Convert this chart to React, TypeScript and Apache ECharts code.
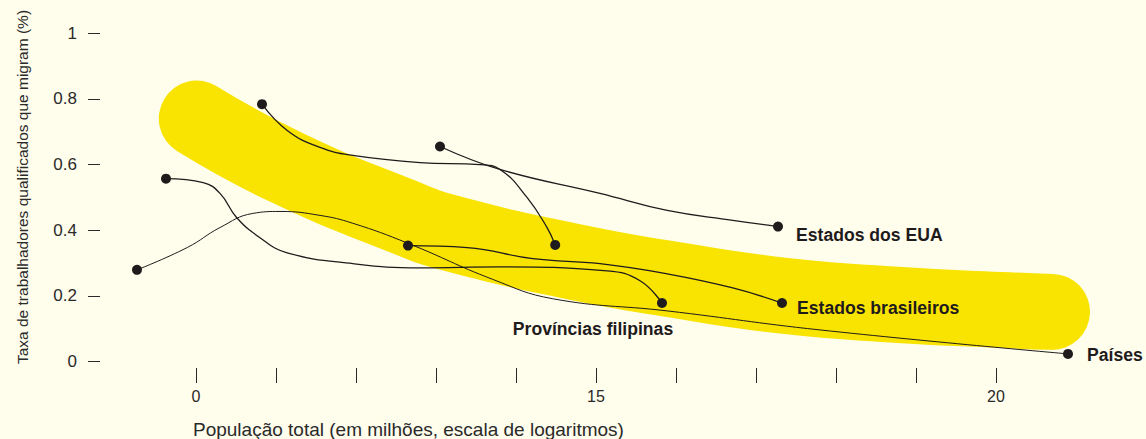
import React, { useEffect, useRef } from "react";
import * as echarts from "echarts";

// x in axis units (one tick = one unit), y in share (0..1)
const bandPoints: [number, number][] = [
  [0.01, 0.74], [1.14, 0.59], [2.55, 0.445], [3.21, 0.389], [4.8, 0.3],
  [5.9, 0.252], [7.35, 0.2], [8.8, 0.172], [10.05, 0.157], [10.7, 0.151],
];

const usLineA: [number, number][] = [
  [0.825, 0.784], [1.14, 0.704], [1.55, 0.652], [1.96, 0.628], [2.8, 0.606],
  [3.55, 0.6], [3.8, 0.585], [4.14, 0.499], [4.39, 0.407], [4.49, 0.355],
];
const usLineB: [number, number][] = [
  [3.05, 0.655], [3.8, 0.585], [5.05, 0.512], [5.89, 0.46], [6.71, 0.43], [7.275, 0.411],
];
const philippines: [number, number][] = [
  [-0.375, 0.557], [0.09, 0.545], [0.3, 0.512], [0.51, 0.438], [0.8, 0.377],
  [1.14, 0.331], [1.96, 0.298], [2.8, 0.285], [3.8, 0.288], [5.14, 0.276],
  [5.55, 0.246], [5.825, 0.178],
];
const brazil: [number, number][] = [
  [2.65, 0.353], [3.39, 0.347], [4.21, 0.313], [5.05, 0.298], [5.89, 0.267],
  [6.71, 0.224], [7.325, 0.178],
];
const countries: [number, number][] = [
  [-0.7375, 0.279], [-0.11, 0.347], [0.3, 0.408], [0.71, 0.451], [1.05, 0.457],
  [1.55, 0.445], [1.96, 0.421], [2.65, 0.36], [3.71, 0.25], [4.46, 0.191],
  [5.89, 0.154], [7.8, 0.096], [10.9, 0.023],
];

const xTickValues = [0, 1, 2, 3, 4, 5, 6, 7, 8, 9, 10];
const xLabelValues = [0, 5, 10];
const xLabelTexts = ["0", "15", "20"];
const yTickValues = [0, 0.2, 0.4, 0.6, 0.8, 1];
const yLabelTexts = ["0", "0.2", "0.4", "0.6", "0.8", "1"];

const INK = "#1f1b1c";
const AXIS = "#2a2a2a";
const YELLOW = "#F9E300";
const BG = "#FFFDEC";
const FONT = "Liberation Sans, Arial, sans-serif";

export default function App() {
  const ref = useRef<HTMLDivElement>(null);
  useEffect(() => {
    if (!ref.current) return;
    const chart = echarts.init(ref.current, undefined, { renderer: "svg" });
    const thin = (data: [number, number][], w = 1.3) => ({
      type: "line",
      data,
      smooth: 0.45,
      showSymbol: false,
      symbol: "none",
      silent: true,
      z: 3,
      lineStyle: { color: INK, width: w, opacity: 1 },
    });
    const labelStyle = {
      show: true,
      fontFamily: FONT,
      fontWeight: "bold",
      fontSize: 17.6,
      color: INK,
      opacity: 1,
    };
    const first = (a: [number, number][]) => a[0];
    const last = (a: [number, number][]) => a[a.length - 1];
    chart.setOption({
      animation: false,
      backgroundColor: BG,
      textStyle: { fontFamily: FONT },
      grid: { left: 100, right: 30, top: 7, bottom: 71 },
      xAxis: {
        type: "value",
        min: -1.2,
        max: 11.5,
        splitLine: { show: false },
        axisLine: { show: false, onZero: false },
        axisTick: {
          show: true,
          customValues: xTickValues,
          length: 15,
          lineStyle: { color: AXIS, width: 1 },
        },
        axisLabel: {
          customValues: xLabelValues,
          margin: 20,
          fontSize: 16,
          color: AXIS,
          fontFamily: FONT,
          formatter: (v: number) => {
            const i = xLabelValues.findIndex((x) => Math.abs(x - v) < 1e-6);
            return i >= 0 ? xLabelTexts[i] : "";
          },
        },
      },
      yAxis: {
        type: "value",
        min: -0.02,
        max: 1.08,
        splitLine: { show: false },
        axisLine: { show: false, onZero: false },
        axisTick: {
          show: true,
          customValues: yTickValues,
          length: 12,
          lineStyle: { color: AXIS, width: 1 },
        },
        axisLabel: {
          customValues: yTickValues,
          margin: 23,
          fontSize: 17,
          color: AXIS,
          fontFamily: FONT,
          formatter: (v: number) => {
            const i = yTickValues.findIndex((y) => Math.abs(y - v) < 1e-6);
            return i >= 0 ? yLabelTexts[i] : "";
          },
        },
      },
      graphic: [
        {
          type: "text",
          x: 22,
          y: 187,
          rotation: Math.PI / 2,
          style: {
            text: "Taxa de trabalhadores qualificados que migram (%)",
            fontSize: 15.5,
            fontFamily: FONT,
            fill: AXIS,
            align: "center",
            verticalAlign: "middle",
          },
        },
        {
          type: "text",
          x: 193,
          y: 429,
          style: {
            text: "População total (em milhões, escala de logaritmos)",
            fontSize: 19,
            fontFamily: FONT,
            fill: AXIS,
            align: "left",
            verticalAlign: "middle",
          },
        },
      ],
      series: [
        {
          type: "line",
          data: bandPoints,
          smooth: 0.5,
          showSymbol: false,
          symbol: "none",
          silent: true,
          z: 1,
          lineStyle: { color: YELLOW, width: 76, cap: "round", join: "round", opacity: 1 },
        },
        thin(usLineA),
        thin(usLineB),
        thin(philippines),
        thin(brazil),
        thin(countries, 1),
        {
          type: "scatter",
          symbol: "circle",
          symbolSize: 10,
          silent: true,
          z: 5,
          itemStyle: { color: INK, opacity: 1 },
          data: [
            { value: first(usLineA) },
            { value: first(usLineB) },
            { value: last(usLineA) },
            {
              value: last(usLineB),
              label: { ...labelStyle, position: "right", distance: 13, offset: [0, 8], formatter: "Estados dos EUA" },
            },
            { value: first(philippines) },
            {
              value: last(philippines),
              label: { ...labelStyle, position: "inside", offset: [-69, 26], formatter: "Províncias filipinas" },
            },
            { value: first(brazil) },
            {
              value: last(brazil),
              label: { ...labelStyle, position: "right", distance: 10, offset: [0, 5], formatter: "Estados brasileiros" },
            },
            { value: first(countries) },
            {
              value: last(countries),
              label: { ...labelStyle, position: "right", distance: 14, offset: [0, 1], formatter: "Países" },
            },
          ],
        },
      ],
    });
    return () => chart.dispose();
  }, []);
  return (
    <div
      ref={ref}
      style={{ position: "fixed", left: 0, top: 0, width: 1146, height: 439 }}
    />
  );
}
